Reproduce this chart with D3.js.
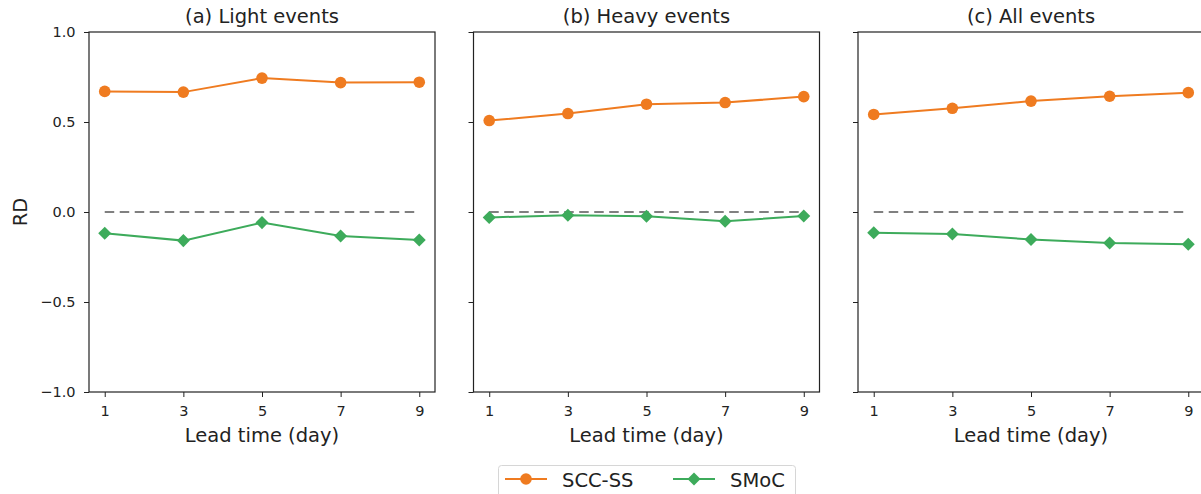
<!DOCTYPE html>
<html>
<head>
<meta charset="utf-8">
<script src="https://cdn.jsdelivr.net/npm/d3@7"></script>
<style>
  body { margin: 0; background: #fff; }
  svg { display: block; font-family: "DejaVu Sans", sans-serif; }
  .axis text { font-size: 14.5px; fill: #222; }
  .axis path, .axis line { stroke: #222; }
</style>
</head>
<body>
<svg id="chart" width="1201" height="494"></svg>
<script>
// lead time in days
const leadTimes = [1, 3, 5, 7, 9];
const panelTitles = ["(a) Light events", "(b) Heavy events", "(c) All events"];
const yTicks = [-1.0, -0.5, 0.0, 0.5, 1.0];

// RD values
const sccLight = [0.670, 0.666, 0.744, 0.719, 0.721];
const smocLight = [-0.118, -0.159, -0.059, -0.133, -0.155];
const sccHeavy = [0.508, 0.547, 0.599, 0.608, 0.641];
const smocHeavy = [-0.030, -0.018, -0.024, -0.052, -0.022];
const sccAll = [0.542, 0.576, 0.616, 0.643, 0.663];
const smocAll = [-0.115, -0.122, -0.153, -0.172, -0.179];

const seriesNames = ["SCC-SS", "SMoC"];
const colors = { "SCC-SS": "#ef7b20", "SMoC": "#3dab5b" };

const panels = [
  { title: panelTitles[0], scc: sccLight, smoc: smocLight },
  { title: panelTitles[1], scc: sccHeavy, smoc: smocHeavy },
  { title: panelTitles[2], scc: sccAll, smoc: smocAll }
];

const svg = d3.select("#chart");
const lefts = [89, 473.5, 858];
const pw = 346, plotTop = 32, ph = 360;
const bigFont = 19.5;

const y = d3.scaleLinear().domain([-1, 1]).range([plotTop + ph, plotTop]);
const fmt = d3.format(".1f");

panels.forEach((p, i) => {
  const x = d3.scaleLinear().domain([0.6, 9.4]).range([lefts[i], lefts[i] + pw]);
  const g = svg.append("g");

  // zero reference line
  g.append("line")
    .attr("x1", x(leadTimes[0])).attr("x2", x(leadTimes[leadTimes.length - 1]))
    .attr("y1", y(0)).attr("y2", y(0))
    .attr("stroke", "#808080")
    .attr("stroke-width", 2)
    .attr("stroke-dasharray", "9.5,5.5");

  const line = d3.line().x((d, j) => x(leadTimes[j])).y(d => y(d));

  // SCC-SS
  g.append("path").datum(p.scc)
    .attr("d", line).attr("fill", "none")
    .attr("stroke", colors["SCC-SS"]).attr("stroke-width", 2);
  g.selectAll(".dot").data(p.scc).join("circle")
    .attr("cx", (d, j) => x(leadTimes[j])).attr("cy", d => y(d))
    .attr("r", 5.8).attr("fill", colors["SCC-SS"]);

  // SMoC
  g.append("path").datum(p.smoc)
    .attr("d", line).attr("fill", "none")
    .attr("stroke", colors["SMoC"]).attr("stroke-width", 2);
  g.selectAll(".dia").data(p.smoc).join("path")
    .attr("transform", (d, j) => `translate(${x(leadTimes[j])},${y(d)}) rotate(45)`)
    .attr("d", "M-4.6,-4.6H4.6V4.6H-4.6Z")
    .attr("fill", colors["SMoC"]);

  // frame
  g.append("rect")
    .attr("x", lefts[i]).attr("y", plotTop).attr("width", pw).attr("height", ph)
    .attr("fill", "none").attr("stroke", "#222").attr("stroke-width", 1.2);

  // axes
  g.append("g").attr("class", "axis")
    .attr("transform", `translate(0,${plotTop + ph})`)
    .call(d3.axisBottom(x).tickValues(leadTimes).tickSize(5).tickPadding(8.5).tickSizeOuter(0))
    .call(a => a.select(".domain").remove());

  g.append("g").attr("class", "axis")
    .attr("transform", `translate(${lefts[i]},0)`)
    .call(d3.axisLeft(y).tickValues(yTicks).tickSize(5).tickPadding(8.5)
      .tickFormat(i === 0 ? fmt : () => ""))
    .call(a => a.select(".domain").remove());

  svg.selectAll(".axis").attr("font-family", null).attr("font-size", null);

  g.append("text")
    .attr("x", lefts[i] + pw / 2).attr("y", 23)
    .attr("text-anchor", "middle")
    .attr("font-size", bigFont).attr("fill", "#222")
    .text(p.title);

  g.append("text")
    .attr("x", lefts[i] + pw / 2).attr("y", 442)
    .attr("text-anchor", "middle")
    .attr("font-size", bigFont).attr("fill", "#222")
    .text("Lead time (day)");
});

svg.append("text")
  .attr("transform", `translate(27,${y(0)}) rotate(-90)`)
  .attr("text-anchor", "middle")
  .attr("font-size", bigFont).attr("fill", "#222")
  .text("RD");

// legend
const lg = svg.append("g");
lg.append("rect")
  .attr("x", 498.5).attr("y", 465.5).attr("width", 297).attr("height", 45)
  .attr("rx", 3).attr("fill", "#fff").attr("stroke", "#d6d6d6");

const legendX = [505, 673];
seriesNames.forEach((name, k) => {
  const lx = legendX[k], ly = 479;
  lg.append("line")
    .attr("x1", lx).attr("x2", lx + 42).attr("y1", ly).attr("y2", ly)
    .attr("stroke", colors[name]).attr("stroke-width", 2);
  if (k === 0) {
    lg.append("circle").attr("cx", lx + 21).attr("cy", ly).attr("r", 5.8).attr("fill", colors[name]);
  } else {
    lg.append("path")
      .attr("transform", `translate(${lx + 21},${ly}) rotate(45)`)
      .attr("d", "M-4.6,-4.6H4.6V4.6H-4.6Z").attr("fill", colors[name]);
  }
  lg.append("text")
    .attr("x", lx + 57).attr("y", 486.5)
    .attr("font-size", bigFont).attr("fill", "#222")
    .text(name);
});
</script>
</body>
</html>
